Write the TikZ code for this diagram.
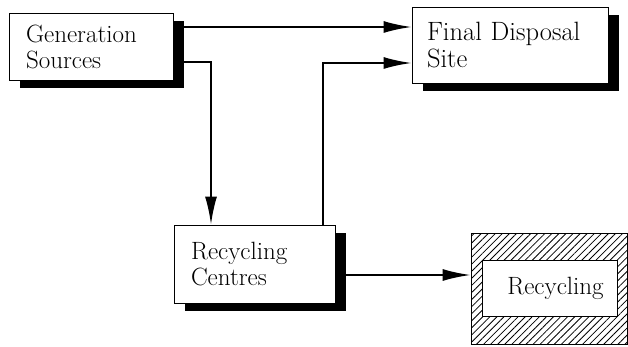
\documentclass[tikz,border=0pt]{standalone}
\usepackage{fontspec}
\usetikzlibrary{arrows.meta,calc,positioning,shadows,patterns.meta}
\tikzset{
  flow/.style      = {-{Latex[length=28pt,width=12pt]}, line width=2pt},
  box/.style       = {draw, line width=0.9pt, fill=white, align=left,
                      inner xsep=17pt, inner ysep=0pt,
                      font=\fontsize{25}{26}\selectfont,
                      drop shadow={shadow xshift=11pt, shadow yshift=-8pt,
                                   fill=black, opacity=1}},
  hatchbox/.style  = {draw, line width=0.9pt, inner sep=0pt,
                      pattern={Lines[angle=45,distance=5pt,line width=0.8pt]}},
  innerbox/.style  = {draw, line width=0.9pt, fill=white, inner sep=0pt,
                      font=\fontsize{25}{26}\selectfont},
}

\begin{document}
\begin{tikzpicture}[x=1pt,y=-1pt]
  \useasboundingbox (0,0) rectangle (628,347);

  % ---- the three boxes with shadows ---------------------------------------
  \node[box,minimum width=164pt,minimum height=67pt,text width=130pt]
        (gen) at (91,46.5) {Generation\\Sources};
  \node[box,minimum width=196pt,minimum height=76pt,text width=176pt,
        inner xsep=10pt,font=\fontsize{26.5}{27}\selectfont]
        (final) at (510,45) {\hspace*{5pt}Final Disposal\\\hspace*{5pt}Site};
  \node[box,minimum width=161pt,minimum height=78pt,text width=127pt]
        (rc) at (254.5,264) {Recycling\\Centres};

  % ---- hatched recycling box ----------------------------------------------
  \node[hatchbox,minimum width=156pt,minimum height=111pt]
        (recout) at (549,288.5) {};
  \node[innerbox,minimum width=135pt,minimum height=56pt]
        (recin) at (549.5,288) {\hspace*{12pt}Recycling};

  % ---- flows ----------------------------------------------------------------
  \draw[flow] (gen.east |- 0,27) -- (final.west |- 0,27);
  \draw[flow] (gen.east |- 0,62) -| (211,0 |- rc.north);
  \draw[flow] (rc.north -| 323,0) |- (final.west |- 0,63);
  \draw[flow] (rc.east |- 0,275) -- (recout.west |- 0,275);
\end{tikzpicture}
\end{document}
